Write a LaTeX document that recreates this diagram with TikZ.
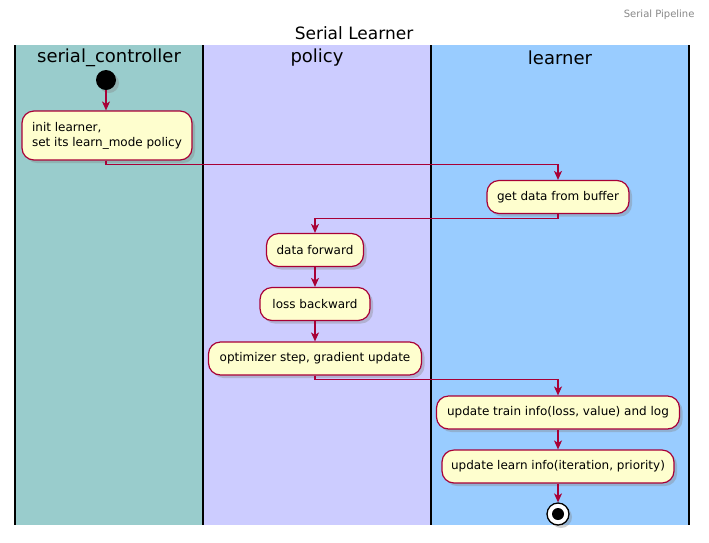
\documentclass[tikz,border=0pt]{standalone}
\usepackage{fontspec}
\setmainfont{DejaVu Sans}
\usetikzlibrary{arrows.meta,shadows}
\definecolor{laneA}{HTML}{99CCCC}
\definecolor{laneB}{HTML}{CCCCFF}
\definecolor{laneC}{HTML}{99CCFF}
\definecolor{boxfill}{HTML}{FEFECE}
\definecolor{boxline}{HTML}{A80036}
\definecolor{pipegray}{HTML}{888888}
\tikzset{
  act/.style={draw=boxline, fill=boxfill, line width=1.2pt, rounded corners=12pt,
    minimum height=33pt, inner sep=0pt, font=\fontsize{12}{15}\selectfont,
    drop shadow={opacity=0.35, shadow xshift=3pt, shadow yshift=-3pt}},
  arr/.style={draw=boxline, line width=1.2pt, -{Stealth[length=9pt,width=8pt,inset=2.5pt]}},
  lane/.style={line width=1.6pt, draw=black},
  lanehead/.style={font=\fontsize{18}{22}\selectfont},
}
\begin{document}
\begin{tikzpicture}[x=1pt,y=-1pt]
\useasboundingbox (0,0) rectangle (709,542);
\fill[white] (0,0) rectangle (709,542);
% lanes
\fill[laneA] (15,45) rectangle (203,525);
\fill[laneB] (203,45) rectangle (431,525);
\fill[laneC] (431,45) rectangle (689,525);
\foreach \xx in {15,203,431,689} \draw[lane] (\xx,45) -- (\xx,525);
% titles
\node[anchor=east, text=pipegray, font=\fontsize{10}{12}\selectfont] (pipe) at (698,15) {Serial Pipeline};
\node[font=\fontsize{17}{20}\selectfont] (title) at (354,33) {Serial Learner};
\node[lanehead] (hA) at (109,57.5) {serial\_controller};
\node[lanehead] (hB) at (317,57.5) {policy};
\node[lanehead] (hC) at (560,57.5) {learner};
% start
\node[circle, fill=black, minimum size=20pt, inner sep=0pt,
  drop shadow={opacity=0.35, shadow xshift=3pt, shadow yshift=-3pt}] (start) at (106,80) {};
% actions
\node[act, minimum width=170pt, minimum height=49pt, align=left] (b1) at (107,135.5)
  {init learner,\\set its learn\_mode policy};
\node[act, minimum width=142pt] (b2) at (558,197) {get data from buffer};
\node[act, minimum width=97pt] (b3) at (315,250) {data forward};
\node[act, minimum width=110pt] (b4) at (315,304) {loss backward};
\node[act, minimum width=213pt] (b5) at (315,358.5) {optimizer step, gradient update};
\node[act, minimum width=243pt] (b6) at (558,412.5) {update train info(loss, value) and log};
\node[act, minimum width=232pt] (b7) at (558,466.5) {update learn info(iteration, priority)};
% end
\node[circle, draw=black, line width=1.3pt, fill=white, minimum size=22pt, inner sep=0pt,
  drop shadow={opacity=0.35, shadow xshift=3pt, shadow yshift=-3pt}] (stop) at (558,514) {};
\fill[black] (stop.center) circle (6pt);
% connectors
\draw[arr] (start) -- (start |- b1.north);
\draw[arr] (start |- b1.south) -- ++(0,4) -| (b2.north);
\draw[arr] (b2.south) -- ++(0,4) -| (b3.north);
\draw[arr] (b3) -- (b4);
\draw[arr] (b4) -- (b5);
\draw[arr] (b5.south) -- ++(0,4) -| (b6.north);
\draw[arr] (b6) -- (b7);
\draw[arr] (b7) -- (stop);
\end{tikzpicture}
\end{document}
